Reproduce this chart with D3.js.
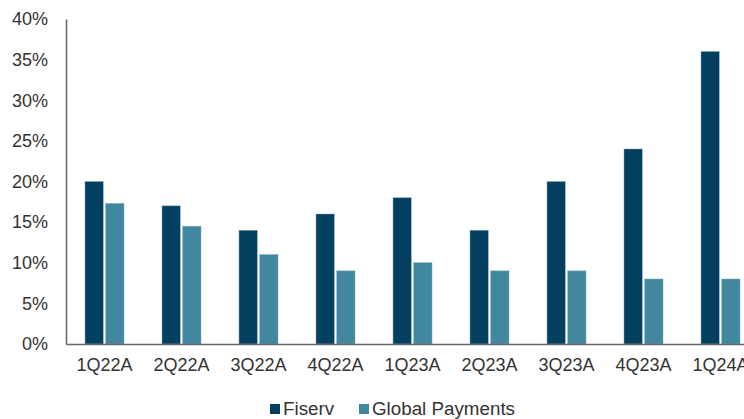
<!DOCTYPE html>
<html>
<head>
<meta charset="utf-8">
<script src="https://cdn.jsdelivr.net/npm/d3@7"></script>
<style>
  body { margin: 0; background: #fff; }
  svg { display: block; }
  text { font-family: "Liberation Sans", Arial, sans-serif; fill: #333; }
</style>
</head>
<body>
<svg id="chart" width="744" height="419"></svg>
<script>
// quarters and series values (percent)
var quarters = ["1Q22A", "2Q22A", "3Q22A", "4Q22A", "1Q23A", "2Q23A", "3Q23A", "4Q23A", "1Q24A"];
var fiserv = [20, 17, 14, 16, 18, 14, 20, 24, 36];
var globalPayments = [17.3, 14.5, 11, 9, 10, 9, 9, 8, 8];
var seriesNames = ["Fiserv", "Global Payments"];
var yTicks = [0, 5, 10, 15, 20, 25, 30, 35, 40];

var colors = ["#033f5f", "#41879f"];

var svg = d3.select("#chart");

var xScale = d3.scaleBand()
  .domain(quarters)
  .range([66, 66 + 77 * quarters.length])
  .paddingInner(0)
  .paddingOuter(0);

var yScale = d3.scaleLinear()
  .domain([0, 40])
  .range([344, 19]);

var inner = d3.scaleBand()
  .domain(seriesNames)
  .range([0, 39])
  .paddingInner(0.12);

var rows = quarters.map((q, i) => ({ q: q, values: [fiserv[i], globalPayments[i]] }));

// bars
var groups = svg.selectAll(".grp")
  .data(rows)
  .join("g")
  .attr("class", "grp")
  .attr("transform", (d) => `translate(${xScale(d.q) + (xScale.bandwidth() - 39) / 2},0)`);

groups.selectAll("rect")
  .data((d) => d.values.map((v, j) => ({ name: seriesNames[j], v: v, j: j })))
  .join("rect")
  .attr("x", (d) => inner(d.name))
  .attr("width", inner.bandwidth())
  .attr("y", (d) => yScale(d.v))
  .attr("height", (d) => yScale(0) - yScale(d.v))
  .attr("fill", (d) => colors[d.j])
  .attr("stroke", "#7fa9bd")
  .attr("stroke-width", 0.5);

// y axis
var yAxis = d3.axisLeft(yScale)
  .tickValues(yTicks)
  .tickSize(0)
  .tickPadding(18)
  .tickFormat((d) => d + "%");

var yg = svg.append("g")
  .attr("transform", "translate(66,0)")
  .call(yAxis);
yg.select(".domain").attr("stroke", "#666").attr("stroke-width", 1.5);
yg.selectAll("text").style("font-size", "18px").attr("fill", "#333");

// x axis
var xAxis = d3.axisBottom(xScale)
  .tickSize(0)
  .tickPadding(14);

var xg = svg.append("g")
  .attr("transform", "translate(0,344)")
  .call(xAxis);
xg.select(".domain").attr("stroke", "#666").attr("stroke-width", 1.5);
xg.selectAll("text").style("font-size", "18px").attr("fill", "#333");

// legend
var legendX = [270, 359];
var legend = svg.append("g");
seriesNames.forEach((name, i) => {
  legend.append("rect")
    .attr("x", legendX[i])
    .attr("y", 404)
    .attr("width", 10)
    .attr("height", 10)
    .attr("fill", colors[i]);
  legend.append("text")
    .attr("x", legendX[i] + 13)
    .attr("y", 415)
    .style("font-size", "18.8px")
    .text(name);
});
</script>
</body>
</html>
